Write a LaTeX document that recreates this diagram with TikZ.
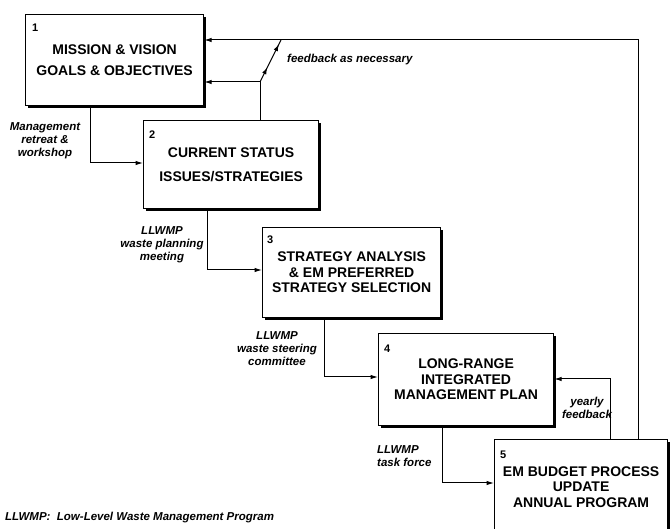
\documentclass[tikz,border=0pt]{standalone}
\usepackage{fontspec}
\setmainfont{Liberation Sans}
\usetikzlibrary{arrows.meta,shadows,decorations.markings}
\begin{document}
\begin{tikzpicture}[x=1pt,y=-1pt,
  box/.style={draw=black,line width=1.2pt,fill=white,rectangle,anchor=north west,
    inner sep=0pt,align=center,font=\fontsize{14}{15.5}\selectfont\bfseries,
    drop shadow={shadow xshift=2.4pt,shadow yshift=-2.4pt,fill=black,opacity=1}},
  num/.style={anchor=west,inner sep=0pt,font=\fontsize{11}{12}\selectfont\bfseries},
  lab/.style={inner sep=0pt,align=center,font=\fontsize{11.5}{13}\selectfont\bfseries\itshape},
  arr/.style={line width=1pt,-{Latex[length=7.5pt,width=4.5pt]}},
  ln/.style={line width=1pt}
]
\useasboundingbox (0,0) rectangle (670,529);
% boxes
\node[box,minimum width=178pt,minimum height=91pt] (b1) at (25,14)
  {MISSION \& VISION\\[6pt]GOALS \& OBJECTIVES};
\node[box,minimum width=175pt,minimum height=88pt] (b2) at (143,120)
  {CURRENT STATUS\\[8pt]ISSUES/STRATEGIES};
\node[box,minimum width=178pt,minimum height=90pt] (b3) at (262,227)
  {STRATEGY ANALYSIS\\\& EM PREFERRED\\STRATEGY SELECTION};
\node[box,minimum width=175pt,minimum height=92pt] (b4) at (378,333)
  {LONG-RANGE\\INTEGRATED\\MANAGEMENT PLAN};
\node[box,minimum width=173pt,minimum height=92pt] (b5) at (494,439)
  {\\[-3pt]EM BUDGET PROCESS\\UPDATE\\ANNUAL PROGRAM};
% numbers
\node[num] (n1) at (32,28) {1};
\node[num] (n2) at (149,135) {2};
\node[num] (n3) at (267,240) {3};
\node[num] (n4) at (384,349) {4};
\node[num] (n5) at (500,455) {5};
% coordinates
\coordinate (c12) at (90,163);
\coordinate (c23) at (207,270);
\coordinate (c34) at (324,377);
\coordinate (c45) at (442,483);
\coordinate (c54) at (610,379);
\coordinate (cfb) at (638,40);
\coordinate (csw) at (260,82);
\coordinate (csw2) at (281,40);
% forward connectors
\draw[arr] (b1.south -| c12) |- (b2.west |- c12);
\draw[arr] (b2.south -| c23) |- (b3.west |- c23);
\draw[arr] (b3.south -| c34) |- (b4.west |- c34);
\draw[arr] (b4.south -| c45) |- (b5.west |- c45);
% feedback connectors
\draw[arr] (b5.north -| c54) |- (b4.east |- c54);
\draw[arr] (b5.north -| cfb) |- (b1.east |- cfb);
\draw[arr] (b2.north -| csw) |- (b1.east |- csw);
\draw[ln,decoration={markings,
   mark=at position 0.35 with {\arrow{Latex[length=7pt,width=4.5pt]}},
   mark=at position 0.9 with {\arrow{Latex[length=7pt,width=4.5pt]}}},
   postaction={decorate}] (csw) -- (csw2);
% labels
\node[lab,anchor=west] (l0) at (287,60) {feedback as necessary};
\node[lab] (l1) at (45,141) {Management\\retreat \&\\workshop};
\node[lab] (l2) at (162,245) {LLWMP\\waste planning\\meeting};
\node[lab] (l3) at (277,349) {LLWMP\\waste steering\\committee};
\node[lab,align=left,anchor=west] (l4) at (377,456) {LLWMP\\task force};
\node[lab] (l5) at (587,408) {yearly\\feedback};
\node[lab,anchor=west] (l6) at (5,518) {LLWMP:\ \ Low-Level Waste Management Program};
\end{tikzpicture}
\end{document}
